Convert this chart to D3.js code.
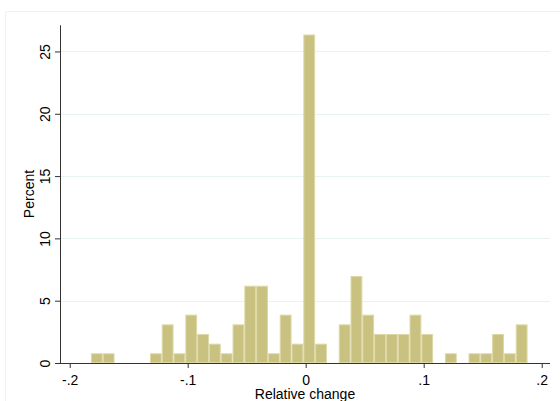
<!DOCTYPE html>
<html>
<head>
<meta charset="utf-8">
<script src="https://cdn.jsdelivr.net/npm/d3@7"></script>
<style>
  html, body { margin: 0; padding: 0; background: #ffffff; }
  svg { display: block; font-family: "Liberation Sans", Arial, sans-serif; }
</style>
</head>
<body>
<svg id="chart" width="560" height="401"></svg>
<script>
// Histogram of relative change, bin width 0.01
const binStart = [
  -0.182, -0.172, -0.162, -0.152, -0.142, -0.132, -0.122, -0.112, -0.102, -0.092,
  -0.082, -0.072, -0.062, -0.052, -0.042, -0.032, -0.022, -0.012, -0.002, 0.008,
  0.018, 0.028, 0.038, 0.048, 0.058, 0.068, 0.078, 0.088, 0.098, 0.108,
  0.118, 0.128, 0.138, 0.148, 0.158, 0.168, 0.178
];
const binWidth = 0.01;
const percent = [
  0.78, 0.78, 0, 0, 0, 0.78, 3.10, 0.78, 3.88, 2.33,
  1.55, 0.78, 3.10, 6.20, 6.20, 0.78, 3.88, 1.55, 26.36, 1.55,
  0, 3.10, 6.98, 3.88, 2.33, 2.33, 2.33, 3.88, 2.33, 0,
  0.78, 0, 0.78, 0.78, 2.33, 0.78, 3.10
];
const xTickValues = [-0.2, -0.1, 0, 0.1, 0.2];
const xTickLabels = ["-.2", "-.1", "0", ".1", ".2"];
const yTickValues = [0, 5, 10, 15, 20, 25];
const yTickLabels = ["0", "5", "10", "15", "20", "25"];

const svg = d3.select("#chart");

// plot region
const plotLeft = 60, plotRight = 550, plotBottom = 363, plotTop = 25.3;

const x = d3.scaleLinear().domain([-0.2, 0.2]).range([69.7, 541.7]);
const y = d3.scaleLinear().domain([0, 27.1]).range([plotBottom, plotTop]);

// faint outer frame of the graph region
svg.append("path")
  .attr("d", "M5.5,401 L5.5,11.5 L560,11.5")
  .attr("fill", "none")
  .attr("stroke", "#eef3f3")
  .attr("stroke-width", 1);

// horizontal gridlines
svg.append("g")
  .selectAll("line")
  .data(yTickValues.filter(v => v > 0))
  .join("line")
  .attr("x1", plotLeft)
  .attr("x2", plotRight)
  .attr("y1", d => Math.round(y(d)) + 0.5)
  .attr("y2", d => Math.round(y(d)) + 0.5)
  .attr("stroke", "#e9f1f2")
  .attr("stroke-width", 1);

// bars
const bins = binStart.map((b, i) => ({ x0: b, x1: b + binWidth, v: percent[i] }))
  .filter(d => d.v > 0);

svg.append("g")
  .selectAll("rect")
  .data(bins)
  .join("rect")
  .attr("x", d => x(d.x0) + 0.5)
  .attr("y", d => y(d.v) + 0.5)
  .attr("width", d => x(d.x1) - x(d.x0) - 1)
  .attr("height", d => y(0) - y(d.v) - 1)
  .attr("fill", "#c9c17f")
  .attr("stroke", "#ddd8a6")
  .attr("stroke-width", 1);

// x axis
const xAxis = d3.axisBottom(x)
  .tickValues(xTickValues)
  .tickFormat((d, i) => xTickLabels[i])
  .tickSize(5)
  .tickSizeOuter(0);

const gx = svg.append("g")
  .attr("transform", `translate(0,${plotBottom})`)
  .call(xAxis);
gx.select(".domain").remove();
gx.append("line")
  .attr("x1", plotLeft).attr("x2", plotRight)
  .attr("y1", 0.5).attr("y2", 0.5)
  .attr("stroke", "#333").attr("stroke-width", 1);
gx.selectAll(".tick line").attr("stroke", "#333");
gx.selectAll(".tick text")
  .attr("y", 22)
  .attr("dy", 0)
  .attr("fill", "#000")
  .style("font-size", "14px");

// y axis
const yAxis = d3.axisLeft(y)
  .tickValues(yTickValues)
  .tickFormat((d, i) => yTickLabels[i])
  .tickSize(5)
  .tickSizeOuter(0);

const gy = svg.append("g")
  .attr("transform", `translate(${plotLeft},0)`)
  .call(yAxis);
gy.select(".domain").remove();
gy.append("line")
  .attr("x1", 0.5).attr("x2", 0.5)
  .attr("y1", plotTop).attr("y2", plotBottom + 1)
  .attr("stroke", "#333").attr("stroke-width", 1);
gy.selectAll(".tick line").attr("stroke", "#333");
gy.selectAll(".tick text")
  .attr("x", 0)
  .attr("y", -10.5)
  .attr("dy", 0)
  .attr("transform", "rotate(-90)")
  .attr("text-anchor", "middle")
  .attr("fill", "#000")
  .style("font-size", "14px");

// axis titles
svg.append("text")
  .attr("x", 305)
  .attr("y", 399)
  .attr("text-anchor", "middle")
  .style("font-size", "14px")
  .attr("fill", "#000")
  .text("Relative change");

svg.append("text")
  .attr("transform", "translate(33.5,194) rotate(-90)")
  .attr("text-anchor", "middle")
  .style("font-size", "14px")
  .attr("fill", "#000")
  .text("Percent");
</script>
</body>
</html>
